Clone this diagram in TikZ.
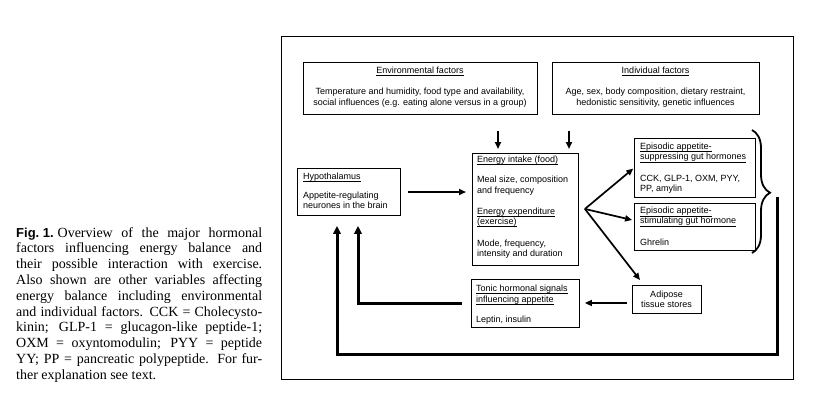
\documentclass[tikz,border=0pt]{standalone}
\usepackage{fontspec}
\setmainfont{Liberation Serif}
\newfontfamily\arialf{Liberation Sans}
\newlength\ulwd
\newcommand\ulx[1]{\settowidth{\ulwd}{#1}\leavevmode\rlap{\rule[-2.6pt]{\ulwd}{0.8pt}}#1}
\usetikzlibrary{arrows.meta,decorations.pathreplacing,calc}
\begin{document}
\begin{tikzpicture}[x=1pt,y=-1pt,
  box/.style={draw, line width=0.9pt, inner sep=0pt, anchor=north west},
  txt/.style={inner sep=0pt, anchor=north west, align=left, font=\arialf\fontsize{9}{10.4}\selectfont},
  ctxt/.style={inner sep=0pt, anchor=north, align=center, font=\arialf\fontsize{9}{10.4}\selectfont},
  captxt/.style={inner sep=0pt, anchor=base west, font=\fontsize{14}{15.8}\selectfont},
  arr/.style={line width=1.7pt, -{Triangle[length=7pt,width=6pt]}},
  fb/.style={line width=3pt, line join=miter, -{Triangle[length=8pt,width=7.5pt]}}]
\useasboundingbox (0,0) rectangle (816,401);

% caption
\node[captxt] (cap1) at (16,237) {\makebox[246pt][s]{{\arialf\bfseries\fontsize{13}{15}\selectfont Fig.\hspace{3.5pt}1.}\hspace{4pt}Overview of the major hormonal}};
\node[captxt] (cap2) at (16,252.8) {\makebox[246pt][s]{factors influencing energy balance and}};
\node[captxt] (cap3) at (16,268.6) {\makebox[246pt][s]{their possible interaction with exercise.}};
\node[captxt] (cap4) at (16,284.4) {\makebox[246pt][s]{Also shown are other variables affecting}};
\node[captxt] (cap5) at (16,300.2) {\makebox[246pt][s]{energy balance including environmental}};
\node[captxt] (cap6) at (16,316.0) {\makebox[246pt][s]{and individual factors. CCK = Cholecysto-}};
\node[captxt] (cap7) at (16,331.8) {\makebox[246pt][s]{kinin; GLP-1 = glucagon-like peptide-1;}};
\node[captxt] (cap8) at (16,347.6) {\makebox[246pt][s]{OXM = oxyntomodulin; PYY = peptide}};
\node[captxt] (cap9) at (16,363.4) {\makebox[246pt][s]{YY; PP = pancreatic polypeptide. For fur-}};
\node[captxt] (cap10) at (16,379.2) {ther explanation see text.};

% boxes
\node[box, line width=1pt, minimum width=512pt, minimum height=343pt] (frame) at (281,36) {};
\node[box, minimum width=234pt, minimum height=52pt] (env) at (303,62) {};
\node[box, minimum width=207pt, minimum height=52pt] (indiv) at (552,62) {};
\node[box, minimum width=103pt, minimum height=47pt] (hyp) at (297,168) {};
\node[box, minimum width=106pt, minimum height=112pt] (energy) at (472,153) {};
\node[box, minimum width=121pt, minimum height=59pt] (ep1) at (634,138) {};
\node[box, minimum width=121pt, minimum height=47pt] (ep2) at (634,203) {};
\node[box, minimum width=108pt, minimum height=48pt] (tonic) at (471,279) {};
\node[box, minimum width=69pt, minimum height=28pt] (adi) at (632,285) {};

% texts
\node[ctxt] (envT) at (420,65.7) {\strut\ulx{Environmental factors}\\[11.1pt]
  Temperature and humidity, food type and availability,\\[0.6pt]
  social influences (e.g. eating alone versus in a group)};
\node[ctxt] (indivT) at (655.5,65.7) {\strut\ulx{Individual factors}\\[11.1pt]
  Age, sex, body composition, dietary restraint,\\[0.6pt]
  hedonistic sensitivity, genetic influences};
\node[txt] (hypT) at (303,171.7) {\strut\ulx{Hypothalamus}\\[9.1pt]
  Appetite-regulating\\[-0.4pt] neurones in the brain};
\node[txt] (energyT) at (477,154.7) {\strut\ulx{Energy intake (food)}\\[9.9pt]
  Meal size, composition\\[0.3pt] and frequency\\[10.6pt]
  \ulx{Energy expenditure}\\[-0.4pt] \ulx{(exercise)}\\[12.2pt]
  Mode, frequency,\\[-0.4pt] intensity and duration};
\node[txt] (ep1T) at (640,141.7) {\strut\ulx{Episodic appetite-}\\[0.3pt]
  \ulx{suppressing gut hormones}\\[11.2pt]
  CCK, GLP-1, OXM, PYY,\\[-0.4pt] PP, amylin};
\node[txt] (ep2T) at (640,206.4) {\strut\ulx{Episodic appetite-}\\[-0.4pt]
  \ulx{stimulating gut hormone}\\[11.6pt] Ghrelin};
\node[txt] (tonicT) at (476,284) {\strut\ulx{Tonic hormonal signals}\\[0.6pt]
  \ulx{influencing appetite}\\[9.6pt] Leptin, insulin};
\node[ctxt] (adiT) at (666.5,289.7) {\strut Adipose\\[-0.1pt] tissue stores};

% connectors
\coordinate (xA) at (498,0);
\coordinate (xB) at (569,0);
\coordinate (yH) at (0,192);
\coordinate (y303) at (0,303);
\coordinate (x358) at (358,0);
\draw[arr, shorten <=16pt, shorten >=4pt] (env.south -| xA) -- (energy.north -| xA);
\draw[arr, shorten <=16pt, shorten >=4pt] (indiv.south -| xB) -- (energy.north -| xB);
\draw[arr, shorten <=7pt, shorten >=6pt] (hyp.east |- yH) -- (energy.west |- yH);
\coordinate (fan) at ([xshift=6pt,yshift=0.5pt]energy.east);
\draw[arr, shorten >=1pt] (fan) -- (ep1.west);
\draw[arr, shorten >=2pt] (fan) -- ([yshift=6.5pt]ep2.west);
\draw[arr] (fan) -- ([xshift=8pt,yshift=5pt]adi.north west);
\draw[arr, shorten <=5pt, shorten >=5pt] (adi.west |- y303) -- (tonic.east |- y303);
\draw[fb, shorten >=10pt] ([xshift=-9pt]tonic.west) -| (hyp.south -| x358);

% brace and long feedback loop
\draw[decorate, decoration={brace, amplitude=18pt, aspect=0.51}, line width=1.8pt] (752,130) -- (752,253);
\coordinate (c1) at (777,197);
\coordinate (c2) at (337,354);
\draw[fb, shorten >=10pt] (c1) |- (c2) -- (hyp.south -| c2);
\end{tikzpicture}
\end{document}
